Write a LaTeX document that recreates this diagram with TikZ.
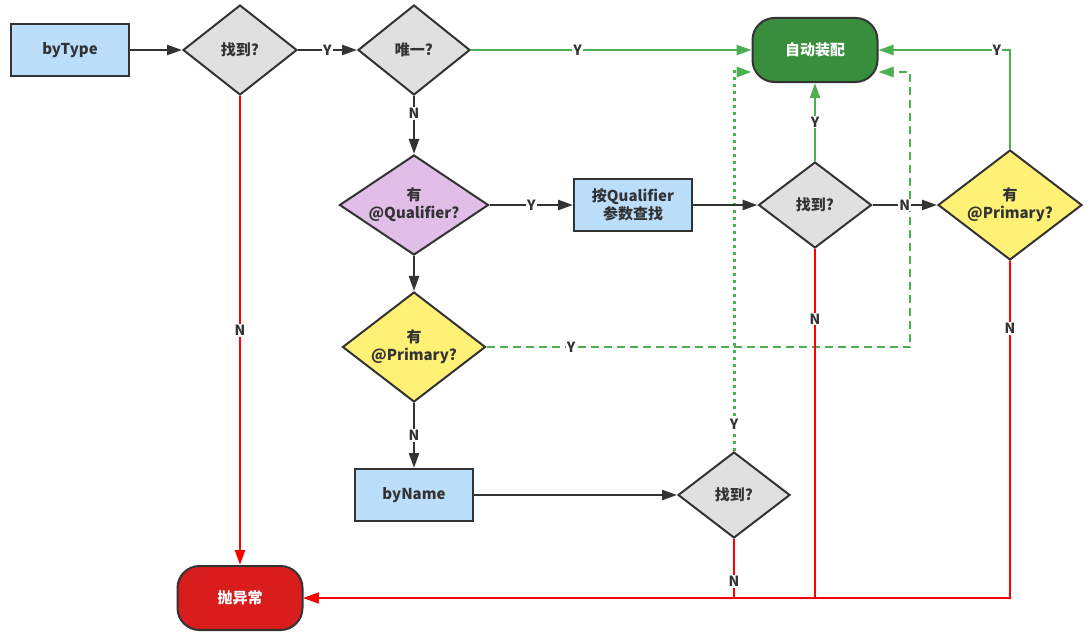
\documentclass[tikz,border=0pt]{standalone}
\usepackage{fontspec}
\setmainfont{Noto Sans CJK SC}
\usetikzlibrary{arrows.meta,positioning,shapes.geometric,calc}
\definecolor{abdark}{HTML}{333333}
\definecolor{abblue}{HTML}{BBDEFB}
\definecolor{abgray}{HTML}{E0E0E0}
\definecolor{abpurple}{HTML}{E1BEE7}
\definecolor{abyellow}{HTML}{FFF176}
\definecolor{abgreen}{HTML}{4CAF50}
\definecolor{abgreenD}{HTML}{388E3C}
\definecolor{abred}{HTML}{FF0000}
\definecolor{abredD}{HTML}{D91C1C}

\begin{document}
\begin{tikzpicture}[x=1pt, y=-1pt, line width=2pt,
  >={Triangle[length=15pt, width=10pt]},
  proc/.style={rectangle, draw=abdark, fill=abblue, minimum width=118pt,
    minimum height=52pt, align=center, text=abdark,
    font=\bfseries\fontsize{15}{18}\selectfont},
  test/.style={diamond, draw=abdark, fill=abgray, inner sep=0pt, aspect=1.4,
    align=center, text=abdark, font=\bfseries\fontsize{15}{18}\selectfont},
  term/.style={rectangle, rounded corners=22pt, draw=abdark, minimum width=125pt,
    minimum height=64pt, text=white, font=\bfseries\fontsize{15}{18}\selectfont},
  flow/.style={draw=abdark, line width=2.5pt, ->},
  yes/.style={draw=abgreen, line width=2.5pt, ->},
  no/.style={draw=abred, line width=2.5pt, ->},
  tag/.style={fill=white, inner sep=1pt, text=abdark,
    font=\bfseries\fontsize{14}{16}\selectfont}]
\useasboundingbox (0,0) rectangle (1092,642);

% nodes
\node[proc] (bytype) at (70,50) {byType};
\node[test, minimum width=114pt, minimum height=90pt] (find1) at (240,50) {找到?};
\node[test, minimum width=112pt, minimum height=90pt] (uniq) at (414,50) {唯一?};
\node[term, fill=abgreenD] (auto) at (815,50) {自动装配};
\node[test, fill=abpurple, minimum width=149pt, minimum height=100pt]
  (qual) at (414,205) {有\\@Qualifier?};
\node[proc] (qfind) at (633,205) {按Qualifier\\参数查找};
\node[test, minimum width=113pt, minimum height=86pt] (find2) at (815,205) {找到?};
\node[test, fill=abyellow, minimum width=144pt, minimum height=110pt]
  (primr) at (1010,205) {有\\@Primary?};
\node[test, fill=abyellow, minimum width=143pt, minimum height=110pt]
  (priml) at (414,347) {有\\@Primary?};
\node[proc] (byname) at (414,495) {byName};
\node[test, minimum width=112pt, minimum height=86pt] (find3) at (734,495) {找到?};
\node[term, fill=abredD] (throw) at (240,598) {抛异常};
\coordinate (dashx) at (910,0);

% main flow
\draw[flow] (bytype) -- (find1);
\draw[flow] (find1) -- node[tag]{Y} (uniq);
\draw[flow] (uniq) -- node[tag, pos=.3]{N} (qual);
\draw[flow] (qual) -- node[tag]{Y} (qfind);
\draw[flow] (qual) -- (priml);
\draw[flow] (priml) -- node[tag]{N} (byname);
\draw[flow] (byname) -- (find3);

% found -> autowire
\draw[yes] (uniq.east) -- node[tag, pos=.38]{Y} (auto.west);
\draw[yes] (find2.north) -- node[tag]{Y} (auto.south);
\draw[yes] (primr.north) |- node[tag, pos=.55]{Y} (auto.east);
\draw[yes, dash pattern=on 8pt off 5pt] (priml.east)
  -- node[tag, pos=.2]{Y} (priml.east -| dashx) |- ([yshift=-22pt]auto.east);
\draw[yes, line width=3pt, dash pattern=on 3pt off 4pt] (find3.north)
  |- node[tag, pos=.035]{Y} ([yshift=-22pt]auto.west);
\draw[flow] (qfind) -- (find2);
\draw[flow] (find2) -- node[tag]{N} (primr);

% not found -> exception
\draw[no] (find1.south) -- node[tag]{N} (throw.north);
\draw[no] (find2.south) |- node[tag, pos=.1]{N} (throw.east);
\draw[no] (primr.south) |- node[tag, pos=.1]{N} (throw.east);
\draw[no] (find3.south) |- node[tag, pos=.36]{N} (throw.east);
\end{tikzpicture}
\end{document}
